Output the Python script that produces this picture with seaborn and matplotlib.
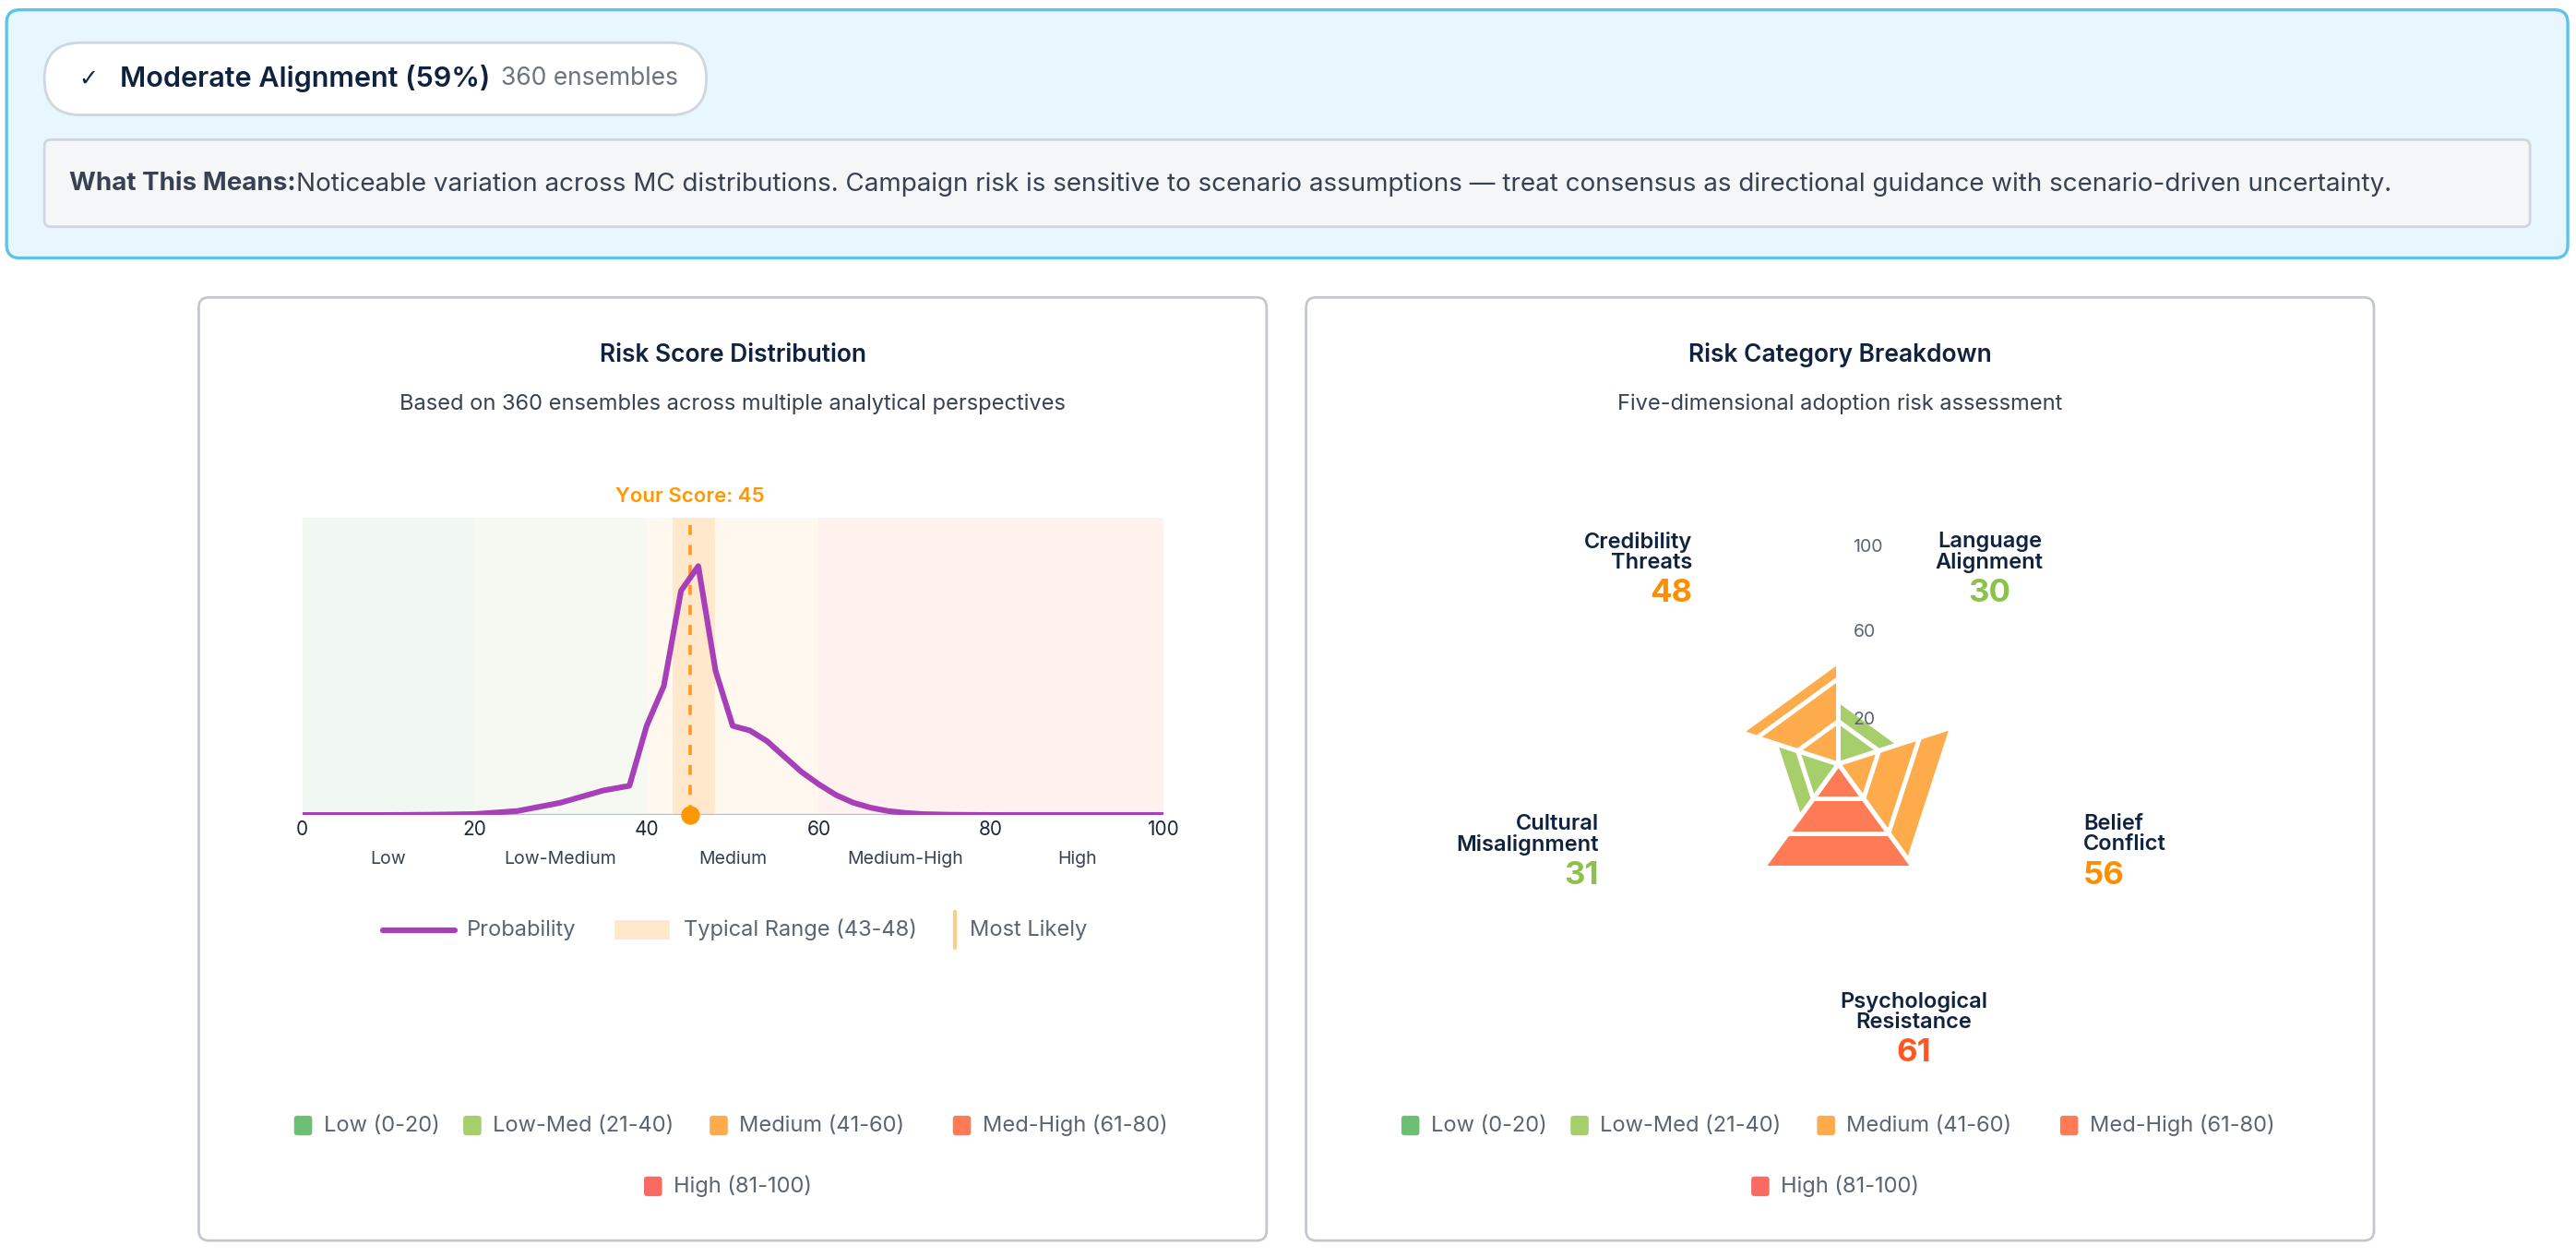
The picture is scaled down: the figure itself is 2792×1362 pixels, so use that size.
import numpy as np
import pandas as pd
import matplotlib.pyplot as plt
import seaborn as sns
from matplotlib.patches import FancyBboxPatch, Rectangle, Polygon
from matplotlib.lines import Line2D

# --- data ---
score_x = [0, 5, 10, 15, 20, 25, 30, 35, 38, 40, 42, 44, 45, 46, 48, 50, 52, 54,
           56, 58, 60, 62, 64, 66, 68, 70, 72, 75, 80, 85, 90, 95, 100]
prob_y = [0, 0, 0, 1, 3, 13, 40, 80, 95, 290, 420, 730, 770, 810, 470, 290, 275, 240,
          190, 140, 100, 65, 40, 24, 13, 7, 3, 1, 0, 0, 0, 0, 0]
your_score = 45
typical_range = (43, 48)
band_edges = [0, 20, 40, 60, 80, 100]
band_names = ['Low', 'Low-Medium', 'Medium', 'Medium-High', 'High']
band_bg = ['#f1f8f1', '#f6f9f1', '#fff8ee', '#fff1ee', '#fff1ee']

categories = ['Language\nAlignment', 'Belief\nConflict', 'Psychological\nResistance',
              'Cultural\nMisalignment', 'Credibility\nThreats']
risk_values = [30, 56, 61, 31, 48]
radial_ticks = [20, 60, 100]

level_labels = ['Low (0-20)', 'Low-Med (21-40)', 'Medium (41-60)', 'Med-High (61-80)', 'High (81-100)']
level_colors = ['#6dbf73', '#a6cf6c', '#fdab4b', '#ff7b56', '#f96b62']
value_text_colors = {'low': '#4caf50', 'lowmed': '#8bc34a', 'med': '#ff8f00', 'medhigh': '#ff5722', 'high': '#f44336'}

sns.set_theme(style='white')
plt.rcParams['font.family'] = ['Inter', 'DejaVu Sans']

W, H = 1568, 765
fig = plt.figure(figsize=(13.96, 6.81), dpi=200)
bg = fig.add_axes([0, 0, 1, 1])
bg.set_xlim(0, W)
bg.set_ylim(H, 0)
bg.axis('off')

navy = '#0f2340'
grey = '#5b6473'

def box(x0, y0, x1, y1, fc, ec, rad, lw=1.0):
    bg.add_patch(FancyBboxPatch((x0, y0), x1 - x0, y1 - y0,
                                boxstyle=f'round,pad=0,rounding_size={rad}',
                                fc=fc, ec=ec, lw=lw))

# banner
box(4, 6, 1563, 157, '#e8f6fd', '#5cc3ea', 8, 1.2)
box(27, 26, 430, 70, 'white', '#cfd6e0', 22)
bg.text(48, 48, '✓', fontsize=9, color=navy, va='center', family=['DejaVu Sans'])
bg.text(73, 48, 'Moderate Alignment (59%)', fontsize=11, color=navy, va='center', weight='semibold')
bg.text(305, 48, '360 ensembles', fontsize=9.5, color='#6b7280', va='center')
box(27, 85, 1540, 138, '#f4f6f8', '#cfd6e0', 4)
bg.text(42, 112, 'What This Means:', fontsize=10, color='#374151', va='center', weight='bold')
bg.text(180, 112, 'Noticeable variation across MC distributions. Campaign risk is sensitive to scenario '
        'assumptions — treat consensus as directional guidance with scenario-driven uncertainty.',
        fontsize=10, color='#374151', va='center')

# panels
for px in (121, 795):
    box(px, 181, px + 650, 755, 'white', '#c4c8ce', 6)

bg.text(446, 216, 'Risk Score Distribution', fontsize=9.5, color=navy, ha='center', va='center', weight='semibold')
bg.text(446, 246, 'Based on 360 ensembles across multiple analytical perspectives', fontsize=8.5,
        color='#374151', ha='center', va='center')
bg.text(1120, 216, 'Risk Category Breakdown', fontsize=9.5, color=navy, ha='center', va='center', weight='semibold')
bg.text(1120, 246, 'Five-dimensional adoption risk assessment', fontsize=8.5,
        color='#374151', ha='center', va='center')

# --- distribution chart ---
ax = fig.add_axes([184 / W, 1 - 496 / H, 524 / W, 181 / H])
for i in range(5):
    ax.axvspan(band_edges[i], band_edges[i + 1], color=band_bg[i], lw=0, zorder=0)
ax.axvspan(*typical_range, color='#ffe8cc', lw=0, zorder=1)
df = pd.DataFrame({'score': score_x, 'prob': prob_y})
sns.lineplot(data=df, x='score', y='prob', ax=ax, color='#a63fb8', lw=2.2, zorder=4)
ax.axvline(your_score, color='#ff9a1f', ls=(0, (3, 3)), lw=1.3, zorder=3)
ax.axhline(0, color='#b8bec8', lw=0.8, zorder=2)
ax.scatter([your_score], [0], s=40, color='#ff9800', zorder=5, clip_on=False)
ax.set_xlim(0, 100)
ax.set_ylim(0, 968)
ax.set_xticks(band_edges)
ax.tick_params(axis='x', labelsize=7.5, colors='#1f2937', length=0, pad=2)
ax.set_yticks([])
ax.set_xlabel('')
ax.set_ylabel('')
for s in ax.spines.values():
    s.set_visible(False)
ax.text(your_score, 1.07, f'Your Score: {your_score}', transform=ax.get_xaxis_transform(),
        ha='center', va='center', fontsize=8, color='#ff9800', weight='semibold')
for i, name in enumerate(band_names):
    ax.text((band_edges[i] + band_edges[i + 1]) / 2, -0.15, name, transform=ax.get_xaxis_transform(),
            ha='center', va='center', fontsize=7, color='#374151')

# series legend
bg.add_line(Line2D([233, 277], [566, 566], color='#a63fb8', lw=2.2))
bg.text(284, 566, 'Probability', fontsize=8.5, color=grey, va='center')
bg.add_patch(Rectangle((374, 560), 34, 12, fc='#ffe8cc', lw=0))
bg.text(416, 566, f'Typical Range ({typical_range[0]}-{typical_range[1]})', fontsize=8.5, color=grey, va='center')
bg.add_line(Line2D([581, 581], [555, 577], color='#ffcc88', lw=1.5))
bg.text(590, 566, 'Most Likely', fontsize=8.5, color=grey, va='center')

# level legends
def level_legend(cx):
    row1 = [(-267, 0), (-164, 1), (-14, 2), (134, 3)]
    for dx, k in row1:
        bg.add_patch(FancyBboxPatch((cx + dx, 679), 11, 12, boxstyle='round,pad=0,rounding_size=2',
                                    fc=level_colors[k], lw=0))
        bg.text(cx + dx + 18, 685, level_labels[k], fontsize=8.5, color=grey, va='center')
    bg.add_patch(FancyBboxPatch((cx - 54, 716), 11, 12, boxstyle='round,pad=0,rounding_size=2',
                                fc=level_colors[4], lw=0))
    bg.text(cx - 36, 722, level_labels[4], fontsize=8.5, color=grey, va='center')

level_legend(446)
level_legend(1120)

# --- radar / polar area ---
cx, cy, k = 1119, 465, 1.3
starts = [90, 18, -54, -126, -198]

def pt(r, a):
    t = np.radians(a)
    return cx + r * k * np.cos(t), cy - r * k * np.sin(t)

def level_color(v):
    idx = min(int((v - 1) // 20), 4) if v > 0 else 0
    return level_colors[idx]

def value_color(v):
    keys = ['low', 'lowmed', 'med', 'medhigh', 'high']
    return value_text_colors[keys[min(int((v - 1) // 20), 4)]]

for a0, v in zip(starts, risk_values):
    a1 = a0 - 72
    bg.add_patch(Polygon([(cx, cy), pt(v, a0), pt(v, a1)], closed=True,
                         fc=level_color(v), ec='white', lw=1.8, zorder=3))
    for r in range(20, 100, 20):
        if r < v:
            p0, p1 = pt(r, a0), pt(r, a1)
            bg.add_line(Line2D([p0[0], p1[0]], [p0[1], p1[1]], color='white', lw=1.8, zorder=4))

for r, y in zip(radial_ticks, [438, 385, 333]):
    bg.text(cx + 9, y, str(r), fontsize=7, color=grey, ha='left', va='center', zorder=5)

label_pos = [(1211, 'center'), (1268, 'left'), (1165, 'center'), (973, 'right'), (1030, 'right')]
label_y = [336, 508, 616, 508, 336]
for (lx, ha), ly, name, v in zip(label_pos, label_y, categories, risk_values):
    bg.text(lx, ly, name, fontsize=8.5, color=navy, ha=ha, va='center', weight='semibold',
            linespacing=1.0)
    bg.text(lx, ly + 25, str(v), fontsize=12.5, color=value_color(v), ha=ha, va='center', weight='bold')

fig.savefig('out.png', dpi=200)
